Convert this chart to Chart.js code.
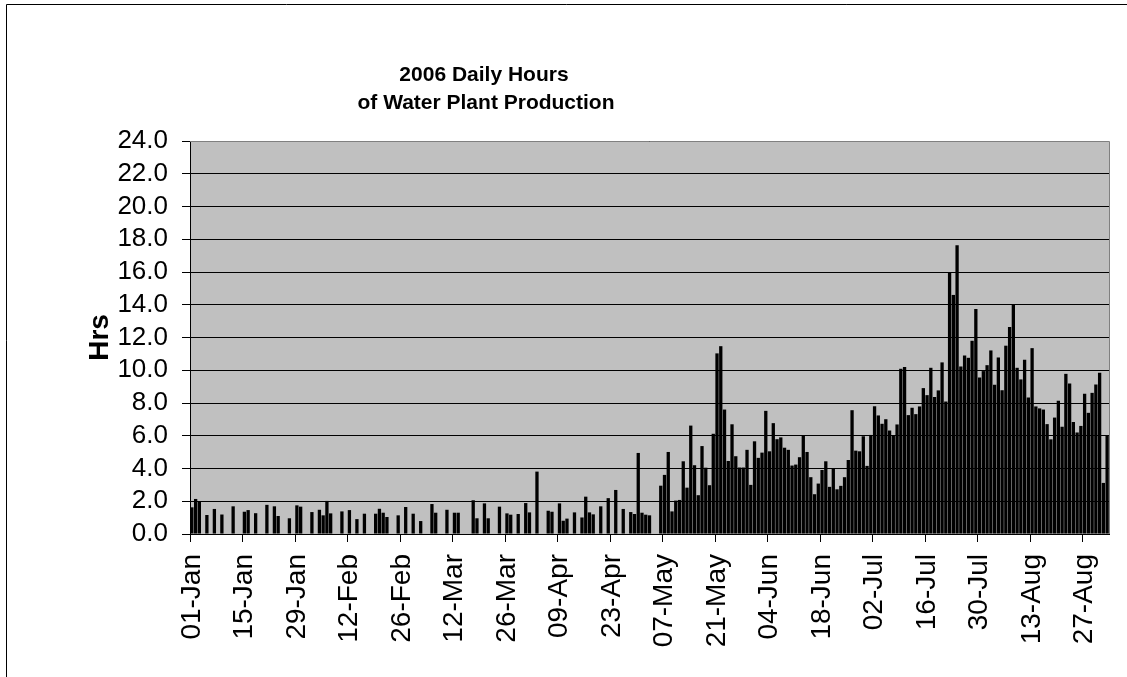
<!DOCTYPE html>
<html>
<head>
<meta charset="utf-8">
<script src="https://cdn.jsdelivr.net/npm/chart.js@4.4.1/dist/chart.umd.min.js"></script>
<style>
  html, body { margin: 0; padding: 0; background: #fff; }
  canvas { display: block; }
</style>
</head>
<body>
<canvas id="hrs-chart" width="1127" height="677"></canvas>
<script>
// ==========================================
// A. DATA (hours per day, null = plant not run)
// ==========================================
const monthNames = ['Jan', 'Feb', 'Mar', 'Apr', 'May', 'Jun', 'Jul', 'Aug', 'Sep'];

const janHours = [1.63, 2.14, 1.99, null, 1.16, null, 1.53, null, 1.19, null, null, 1.69, null, null, 1.36, 1.46,
                  null, 1.27, null, null, 1.78, null, 1.69, 1.10, null, null, 0.96, null, 1.75, 1.67, null];
const febHours = [null, 1.34, null, 1.48, 1.14, 2.02, 1.26, null, null, 1.38, null, 1.46, null, 0.91, null, 1.24,
                  null, null, 1.24, 1.54, 1.30, 1.04, null, null, 1.14, null, 1.65, null];
const marHours = [1.24, null, 0.79, null, null, 1.83, 1.30, null, null, 1.48, null, 1.30, 1.30, null, null, null,
                  2.06, 0.96, null, 1.87, 0.96, null, null, 1.67, null, 1.26, 1.18, null, 1.22, null, 1.89];
const aprHours = [1.32, null, 3.81, null, null, 1.42, 1.36, null, 1.87, 0.81, 0.94, null, 1.32, null, 1.01, 2.28,
                  1.32, 1.20, null, 1.69, null, 2.19, null, 2.69, null, 1.53, null, 1.34, 1.22, 4.95];
const mayHours = [1.30, 1.18, 1.14, null, null, 2.95, 3.61, 5.01, 1.38, 2.04, 2.08, 4.44, 2.83, 6.62, 4.20, 2.37,
                  5.37, 4.05, 2.98, 6.12, 11.03, 11.47, 7.60, 4.46, 6.70, 4.75, 4.06, 4.06, 5.14, 3.00, 5.66];
const junHours = [4.65, 4.97, 7.52, 5.05, 6.77, 5.79, 5.90, 5.27, 5.14, 4.18, 4.24, 4.69, 5.99, 5.01, 3.47, 2.43,
                  3.08, 3.91, 4.44, 2.88, 4.03, 2.73, 2.94, 3.47, 4.52, 7.56, 5.09, 5.05, 5.97, 4.16];
const julHours = [6.05, 7.80, 7.24, 6.73, 7.01, 6.32, 6.00, 6.69, 10.09, 10.20, 7.26, 7.71, 7.32, 7.79, 8.91, 8.48,
                  10.15, 8.36, 8.77, 10.48, 8.09, 15.98, 14.60, 17.63, 10.23, 10.90, 10.76, 11.80, 13.74, 9.56, 9.95];
const augHours = [10.31, 11.21, 9.11, 10.78, 8.78, 11.50, 12.64, 14.04, 10.15, 9.44, 10.64, 8.34, 11.35, 7.79, 7.67, 7.60,
                  6.71, 5.78, 7.11, 8.13, 6.55, 9.78, 9.19, 6.84, 6.20, 6.60, 8.56, 7.40, 8.62, 9.13, 9.85];
const sepHours = [3.12, 6.00];

const tickLabels = ['01-Jan', '15-Jan', '29-Jan', '12-Feb', '26-Feb', '12-Mar', '26-Mar', '09-Apr', '23-Apr',
                    '07-May', '21-May', '04-Jun', '18-Jun', '02-Jul', '16-Jul', '30-Jul', '13-Aug', '27-Aug'];
const yMin = 0, yMax = 24, yStep = 2;

const monthly = [janHours, febHours, marHours, aprHours, mayHours, junHours, julHours, augHours, sepHours];
const categories = [];
const hours = [];
monthly.forEach((arr, m) => {
    arr.forEach((v, i) => {
        categories.push(String(i + 1).padStart(2, '0') + '-' + monthNames[m]);
        hours.push(v);
    });
});

const FONT = '"Liberation Sans", Arial, sans-serif';
const TICK_EVERY = 14;

// ==========================================
// B. PLUGINS (background, frame, title)
// ==========================================
const framePlugin = {
    id: 'frame',
    beforeDraw(chart) {
        const { ctx, chartArea: a } = chart;
        ctx.save();
        ctx.fillStyle = '#fff';
        ctx.fillRect(0, 0, chart.width, chart.height);
        ctx.fillStyle = '#c0c0c0';
        ctx.fillRect(a.left, a.top, a.right - a.left, a.bottom - a.top);
        ctx.restore();
    },
    afterDraw(chart) {
        const { ctx, chartArea: a } = chart;
        ctx.save();
        // plot border top / right
        ctx.strokeStyle = '#808080';
        ctx.lineWidth = 1;
        ctx.beginPath();
        ctx.moveTo(a.left, a.top + 0.5);
        ctx.lineTo(Math.round(a.right) + 0.5, a.top + 0.5);
        ctx.lineTo(Math.round(a.right) + 0.5, a.bottom);
        ctx.stroke();
        // outer chart border
        ctx.strokeStyle = '#000';
        ctx.beginPath();
        ctx.moveTo(6.5, chart.height);
        ctx.lineTo(6.5, 4.5);
        ctx.lineTo(chart.width, 4.5);
        ctx.stroke();
        // title
        ctx.fillStyle = '#000';
        ctx.font = 'bold 21px ' + FONT;
        ctx.textAlign = 'center';
        ctx.textBaseline = 'middle';
        ctx.fillText('2006 Daily Hours', 484, 75);
        ctx.fillText('of Water Plant Production', 486, 103);
        ctx.restore();
    }
};

// ==========================================
// C. CHART
// ==========================================
const ctx = document.getElementById('hrs-chart').getContext('2d');
const chart = new Chart(ctx, {
    type: 'bar',
    data: {
        labels: categories,
        datasets: [{
            data: hours,
            backgroundColor: '#000',
            borderWidth: 0,
            barPercentage: 1.0,
            categoryPercentage: 0.88
        }]
    },
    options: {
        responsive: false,
        animation: false,
        layout: { padding: { top: 141, right: 18, left: 0, bottom: 0 } },
        plugins: { legend: { display: false }, tooltip: { enabled: false }, title: { display: false } },
        scales: {
            x: {
                type: 'category',
                offset: true,
                afterFit(scale) {
                    scale.height = 143;
                    scale.paddingLeft = 0;
                    scale.paddingRight = 0;
                },
                grid: {
                    offset: true,
                    drawOnChartArea: false,
                    drawTicks: true,
                    tickLength: 8,
                    color: c => (c.index % TICK_EVERY === 0 ? '#000' : 'rgba(0,0,0,0)'),
                    tickColor: c => (c.index % TICK_EVERY === 0 ? '#000' : 'rgba(0,0,0,0)')
                },
                border: { display: true, color: '#000', width: 1 },
                ticks: {
                    autoSkip: false,
                    maxRotation: 90,
                    minRotation: 90,
                    padding: 12,
                    color: '#000',
                    font: { family: FONT, size: 28 },
                    callback: (v, i) => (i % TICK_EVERY === 0 ? tickLabels[i / TICK_EVERY] : '')
                }
            },
            y: {
                min: yMin,
                max: yMax,
                afterFit(scale) {
                    scale.width = 190;
                    scale.paddingTop = 0;
                    scale.paddingBottom = 0;
                },
                grid: { color: '#000', lineWidth: 1, tickLength: 8, tickColor: '#000' },
                border: { display: true, color: '#000', width: 1 },
                ticks: {
                    stepSize: yStep,
                    autoSkip: false,
                    padding: 14,
                    color: '#000',
                    font: { family: FONT, size: 26 },
                    callback: v => Number(v).toFixed(1)
                },
                title: {
                    display: true,
                    text: 'Hrs',
                    color: '#000',
                    font: { family: FONT, size: 28, weight: 'bold' },
                    padding: { top: 83, bottom: 0 }
                }
            }
        }
    },
    plugins: [framePlugin]
});
</script>
</body>
</html>
